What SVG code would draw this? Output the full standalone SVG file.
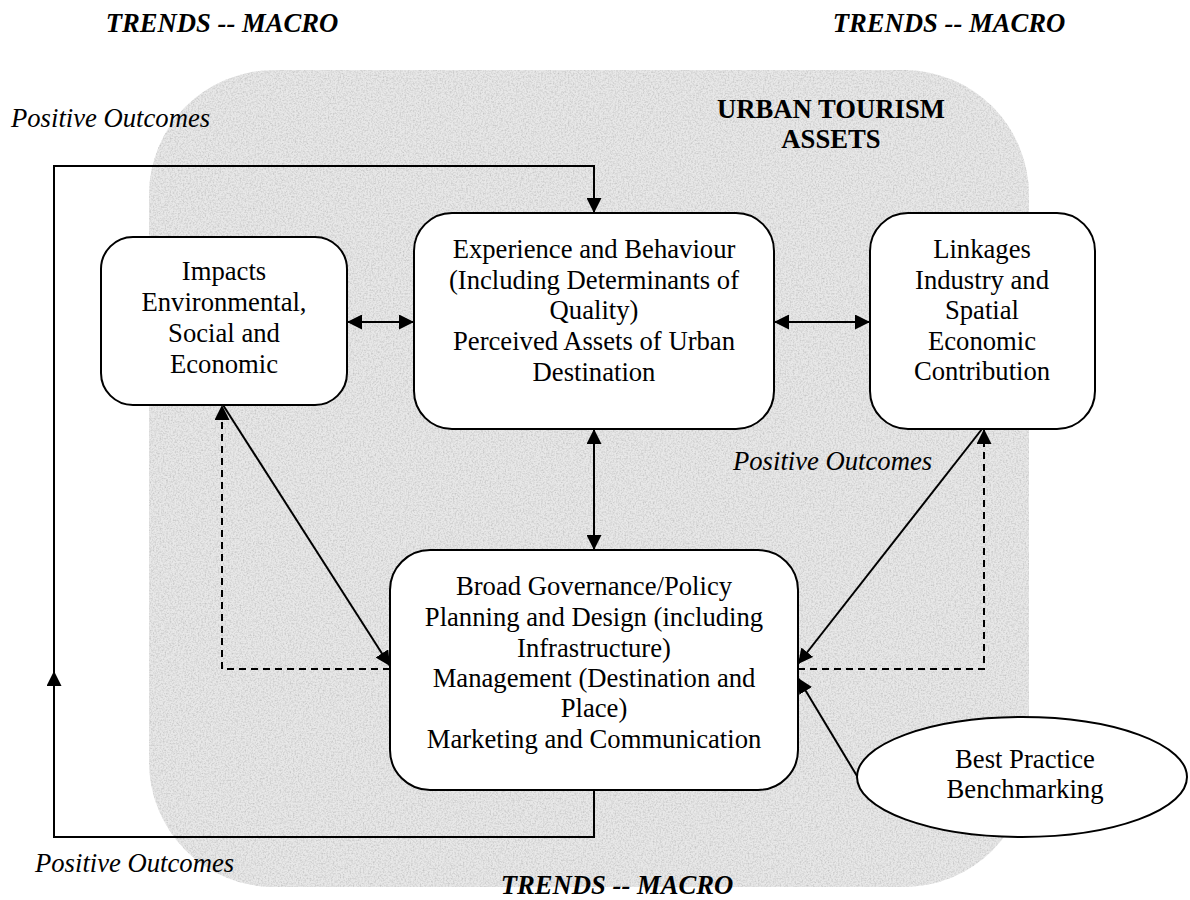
<svg xmlns="http://www.w3.org/2000/svg" width="1190" height="900" viewBox="0 0 1190 900">
<style>
.t{font-family:"Liberation Serif","Times New Roman",serif;font-size:26.67px;fill:#000}
.c{text-anchor:middle}
.bi{font-weight:bold;font-style:italic}
.b{font-weight:bold}
.i{font-style:italic}
.box{fill:#fff;stroke:#000;stroke-width:2}
.ln{fill:none;stroke:#000;stroke-width:2}
.dash{stroke-dasharray:7 5}
</style>
<defs>
<marker id="ah" viewBox="0 0 10 10" refX="10" refY="5" markerWidth="15" markerHeight="15" markerUnits="userSpaceOnUse" orient="auto-start-reverse">
<path d="M0,0 L10,5 L0,10 z" fill="#000"/>
</marker>
<filter id="grain" x="0" y="0" width="100%" height="100%">
<feTurbulence type="fractalNoise" baseFrequency="0.6" numOctaves="3" seed="4" result="n"/>
<feColorMatrix in="n" type="matrix" values="0 0 0 0 0.5  0 0 0 0 0.5  0 0 0 0 0.5  0 0 0 1.6 -0.62" result="g"/>
<feComposite in="g" in2="SourceGraphic" operator="in" result="gi"/>
<feMerge><feMergeNode in="SourceGraphic"/><feMergeNode in="gi"/></feMerge>
</filter>
</defs>
<rect width="1190" height="900" fill="#fff"/>
<g id="background">
<rect x="149" y="70" width="880" height="817" rx="125" ry="125" fill="#e8e8e8" filter="url(#grain)"/>
</g>
<g id="labels">
<text class="t c bi" x="222" y="32">TRENDS -- MACRO</text>
<text class="t c bi" x="949" y="32">TRENDS -- MACRO</text>
<text class="t c bi" x="617" y="894">TRENDS -- MACRO</text>
<text class="t i" x="11" y="127">Positive Outcomes</text>
<text class="t i" x="733" y="470">Positive Outcomes</text>
<text class="t i" x="35" y="872">Positive Outcomes</text>
<text class="t c b" x="831" y="118">URBAN TOURISM</text>
<text class="t c b" x="831" y="148">ASSETS</text>
</g>
<g id="connectors">
<path class="ln" d="M594,790 V837 H54 V671" marker-end="url(#ah)"/>
<path class="ln" d="M54,680 V166 H594 V213" marker-end="url(#ah)"/>
<path class="ln" d="M347,322 H414" marker-start="url(#ah)" marker-end="url(#ah)"/>
<path class="ln" d="M774,322 H870" marker-start="url(#ah)" marker-end="url(#ah)"/>
<path class="ln" d="M594,429 V550" marker-start="url(#ah)" marker-end="url(#ah)"/>
<path class="ln" d="M223,405 L390,666" marker-end="url(#ah)"/>
<path class="ln dash" d="M390,669 H222 V405" marker-end="url(#ah)"/>
<path class="ln" d="M982,429 L798,664" marker-end="url(#ah)"/>
<path class="ln dash" d="M798,669 H984 V429" marker-end="url(#ah)"/>
<path class="ln" d="M857,776 L798,678" marker-end="url(#ah)"/>
</g>
<g id="impacts">
<rect class="box" x="101" y="237" width="246" height="168" rx="32"/>
<text class="t c" x="224" y="280">Impacts</text>
<text class="t c" x="224" y="311">Environmental,</text>
<text class="t c" x="224" y="342">Social and</text>
<text class="t c" x="224" y="373">Economic</text>
</g>
<g id="experience">
<rect class="box" x="414" y="213" width="360" height="216" rx="38"/>
<text class="t c" x="594" y="258">Experience and Behaviour</text>
<text class="t c" x="594" y="289">(Including Determinants of</text>
<text class="t c" x="594" y="319">Quality)</text>
<text class="t c" x="594" y="350">Perceived Assets of Urban</text>
<text class="t c" x="594" y="381">Destination</text>
</g>
<g id="linkages">
<rect class="box" x="870" y="213" width="225" height="216" rx="38"/>
<text class="t c" x="982" y="258">Linkages</text>
<text class="t c" x="982" y="289">Industry and</text>
<text class="t c" x="982" y="319">Spatial</text>
<text class="t c" x="982" y="350">Economic</text>
<text class="t c" x="982" y="380">Contribution</text>
</g>
<g id="governance">
<rect class="box" x="390" y="550" width="408" height="240" rx="40"/>
<text class="t c" x="594" y="595">Broad Governance/Policy</text>
<text class="t c" x="594" y="626">Planning and Design (including</text>
<text class="t c" x="594" y="657">Infrastructure)</text>
<text class="t c" x="594" y="687">Management (Destination and</text>
<text class="t c" x="594" y="717">Place)</text>
<text class="t c" x="594" y="748">Marketing and Communication</text>
</g>
<g id="benchmarking">
<ellipse class="box" cx="1022" cy="777" rx="165" ry="60"/>
<text class="t c" x="1025" y="768">Best Practice</text>
<text class="t c" x="1025" y="798">Benchmarking</text>
</g>
</svg>
